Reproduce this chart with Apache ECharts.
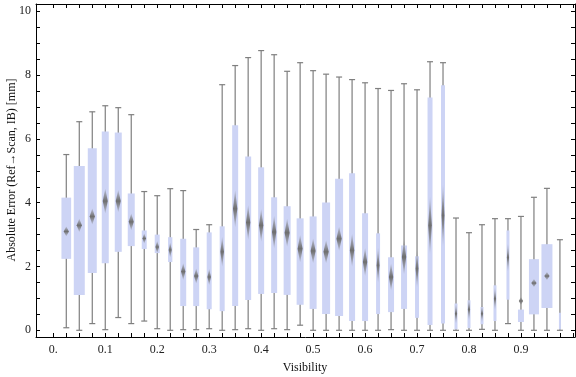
<!DOCTYPE html>
<html>
<head>
<meta charset="utf-8">
<script src="https://cdn.jsdelivr.net/npm/echarts@6/dist/echarts.min.js"></script>
<style>
html,body{margin:0;padding:0;background:#fff;}
#chart{width:576px;height:377px;}
</style>
</head>
<body>
<div id="chart"></div>
<script>
// ---- data ----
const visibility = [0.025,0.05,0.075,0.1,0.125,0.15,0.175,0.2,0.225,0.25,
  0.275,0.3,0.325,0.35,0.375,0.4,0.425,0.45,0.475,0.5,
  0.525,0.55,0.575,0.6,0.625,0.65,0.675,0.7,0.725,0.75,
  0.775,0.8,0.825,0.85,0.875,0.9,0.925,0.95,0.975];
const whiskerLow = [0.08,0,0.21,0.02,0.40,0.21,0.29,0.05,0,0.02,
  0.02,0.05,0,0.02,0.05,0,0.05,0.02,0.16,0,
  0,0,0,0,0,0.02,0,0,0,0,
  0,0,0.03,0,0.21,0,0,0,0];
const quartile1 = [2.24,1.11,1.80,2.10,2.46,2.64,2.55,2.42,2.14,0.76,
  0.76,0.66,0.60,0.76,0.95,1.14,1.17,1.11,0.80,0.67,
  0.51,0.45,0.29,0.29,0.51,0.57,0.67,0.39,0.17,0.21,
  0.03,0.07,0.19,0.29,0.96,0.26,0.50,0.70,0.03];
const medians = [3.10,3.29,3.57,4.05,4.05,3.40,2.88,2.61,2.52,1.84,
  1.70,1.67,2.46,3.81,3.38,3.29,3.08,3.06,2.56,2.49,
  2.46,2.87,2.51,2.14,2.04,1.67,2.30,1.93,3.29,3.60,
  0.52,0.65,0.52,0.99,2.28,0.92,1.48,1.70,null];
const quartile3 = [4.16,5.15,5.71,6.23,6.20,4.29,3.13,3.00,2.92,2.87,
  2.60,3.07,3.26,6.43,5.45,5.11,4.17,3.89,3.51,3.57,
  4.01,4.75,4.92,3.67,3.04,2.29,2.66,2.32,7.30,7.68,
  0.84,0.94,0.73,1.41,3.13,0.65,2.23,2.70,0.55];
const whiskerHigh = [5.51,6.54,6.85,7.04,6.98,6.76,4.35,4.22,4.44,4.38,
  3.16,3.31,7.70,8.30,8.55,8.77,8.64,8.12,8.39,8.14,
  8.03,7.94,7.86,7.76,7.58,7.52,7.73,7.54,8.42,8.39,
  3.52,3.06,3.31,3.50,3.50,3.57,4.17,4.45,2.84];
// relative box widths (sample weight)
const sampleWeight = [9.7,11,9,7,7,7,5,5,4.3,6,
  6,5,5,6,6,6,6,7,7,7,
  8,8,6,6,4,6,6,4,5,4,
  3,3,3,3,3,6,10,11,2];
// height of the median diamond marker (value units)
const medianSpread = [0.31,0.41,0.50,0.78,0.69,0.53,0.31,0.38,0.47,0.53,
  0.47,0.50,0.94,1.16,1.10,1.03,1.03,0.88,0.85,0.78,
  0.72,0.75,1.03,0.88,1.10,0.85,1.10,1.16,1.79,1.94,
  0.63,0.69,0.53,0.72,0.88,0.25,0.25,0.25,0];
const xTickValues = [0,0.025,0.05,0.075,0.1,0.125,0.15,0.175,0.2,0.225,0.25,0.275,0.3,0.325,0.35,0.375,0.4,0.425,0.45,0.475,0.5,0.525,0.55,0.575,0.6,0.625,0.65,0.675,0.7,0.725,0.75,0.775,0.8,0.825,0.85,0.875,0.9,0.925,0.95,0.975,1.0];
const xLabelValues = [0,0.1,0.2,0.3,0.4,0.5,0.6,0.7,0.8,0.9];
const yTickValues = [0,0.5,1,1.5,2,2.5,3,3.5,4,4.5,5,5.5,6,6.5,7,7.5,8,8.5,9,9.5,10];
const yLabelValues = [0,2,4,6,8,10];

const WEIGHT_TO_X = 0.1 / 52; // one weight unit ~ one pixel

const seriesData = visibility.map((v, i) => [
  v, whiskerLow[i], quartile1[i], medians[i] == null ? 0 : medians[i],
  quartile3[i], whiskerHigh[i], sampleWeight[i] * WEIGHT_TO_X,
  medians[i] == null ? 0 : medianSpread[i], medians[i] == null ? 0 : 1
]);

const FONT = '"Liberation Serif", "DejaVu Serif", serif';
const chart = echarts.init(document.getElementById('chart'), null, {renderer: 'canvas'});

function renderItem(params, api) {
  const x = api.value(0);
  const lo = api.coord([x, api.value(1)]);
  const q1 = api.coord([x, api.value(2)]);
  const q3 = api.coord([x, api.value(4)]);
  const hi = api.coord([x, api.value(5)]);
  const bw = api.size([api.value(6), 0])[0];
  const cx = lo[0];
  const lineStyle = {stroke: '#7f7f7f', lineWidth: 1.2, fill: null};
  const children = [
    {type: 'line', shape: {x1: cx, y1: lo[1], x2: cx, y2: hi[1]}, style: lineStyle},
    {type: 'line', shape: {x1: cx - 3, y1: lo[1], x2: cx + 3, y2: lo[1]}, style: lineStyle},
    {type: 'line', shape: {x1: cx - 3, y1: hi[1], x2: cx + 3, y2: hi[1]}, style: lineStyle},
    {type: 'rect', shape: {x: cx - bw / 2, y: q3[1], width: bw, height: q1[1] - q3[1]},
      style: {fill: '#cdd4f5', stroke: null}}
  ];
  if (api.value(8) > 0) {
    const m = api.value(3), s = api.value(7) / 2;
    const top = api.coord([x, m + s])[1];
    const bot = api.coord([x, m - s])[1];
    const mid = api.coord([x, m])[1];
    const dw = Math.min(5.3, bw * 0.72) / 2;
    children.push({
      type: 'polygon',
      shape: {points: [[cx, top], [cx + dw, mid], [cx, bot], [cx - dw, mid]]},
      style: {
        fill: {type: 'linear', x: 0, y: 0, x2: 0, y2: 1, colorStops: [
          {offset: 0, color: 'rgba(125,125,125,0.25)'},
          {offset: 0.5, color: 'rgba(110,110,110,1)'},
          {offset: 1, color: 'rgba(125,125,125,0.25)'}
        ]},
        stroke: null
      }
    });
  }
  return {type: 'group', children: children};
}

const axisLineStyle = {show: true, onZero: false, lineStyle: {color: '#000', width: 1}};
const labelStyle = {fontFamily: FONT, fontSize: 12, color: '#222'};

const option = {
  animation: false,
  backgroundColor: '#fff',
  grid: {left: 36, right: 1, top: 4, bottom: 40, containLabel: false},
  xAxis: [
    {
      type: 'value', min: -0.0333, max: 1.004, position: 'bottom',
      axisLine: axisLineStyle,
      axisTick: {show: true, inside: true, length: 4, customValues: xTickValues, lineStyle: {color: '#000'}},
      axisLabel: Object.assign({show: true, margin: 7, customValues: xLabelValues,
        formatter: v => (Math.abs(v) < 1e-9 ? '0.' : v.toFixed(1))}, labelStyle),
      splitLine: {show: false}
    },
    {
      type: 'value', min: -0.0333, max: 1.004, position: 'top',
      axisLine: axisLineStyle,
      axisTick: {show: true, inside: true, length: 4, customValues: xTickValues, lineStyle: {color: '#000'}},
      axisLabel: {show: false},
      splitLine: {show: false}
    }
  ],
  yAxis: [
    {
      type: 'value', min: -0.21, max: 10.23, position: 'left',
      axisLine: axisLineStyle,
      axisTick: {show: true, inside: true, length: 4, customValues: yTickValues, lineStyle: {color: '#000'}},
      axisLabel: Object.assign({show: true, margin: 5, customValues: yLabelValues,
        formatter: v => String(Math.round(v))}, labelStyle),
      splitLine: {show: false}
    },
    {
      type: 'value', min: -0.21, max: 10.23, position: 'right',
      axisLine: axisLineStyle,
      axisTick: {show: true, inside: true, length: 4, customValues: yTickValues, lineStyle: {color: '#000'}},
      axisLabel: {show: false},
      splitLine: {show: false}
    }
  ],
  graphic: [
    {type: 'text', x: 305, y: 368, style: {text: 'Visibility', font: '12px ' + FONT, fill: '#111',
      textAlign: 'center', textVerticalAlign: 'middle'}},
    {type: 'text', x: 12, y: 170, rotation: Math.PI / 2, style: {text: 'Absolute Error (Ref\u2192Scan, IB) [mm]',
      font: '12px ' + FONT, fill: '#111', textAlign: 'center', textVerticalAlign: 'middle'}}
  ],
  series: [{
    type: 'custom',
    xAxisIndex: 0, yAxisIndex: 0,
    renderItem: renderItem,
    encode: {x: 0, y: [1, 5]},
    data: seriesData,
    clip: false
  }]
};
chart.setOption(option);
</script>
</body>
</html>
